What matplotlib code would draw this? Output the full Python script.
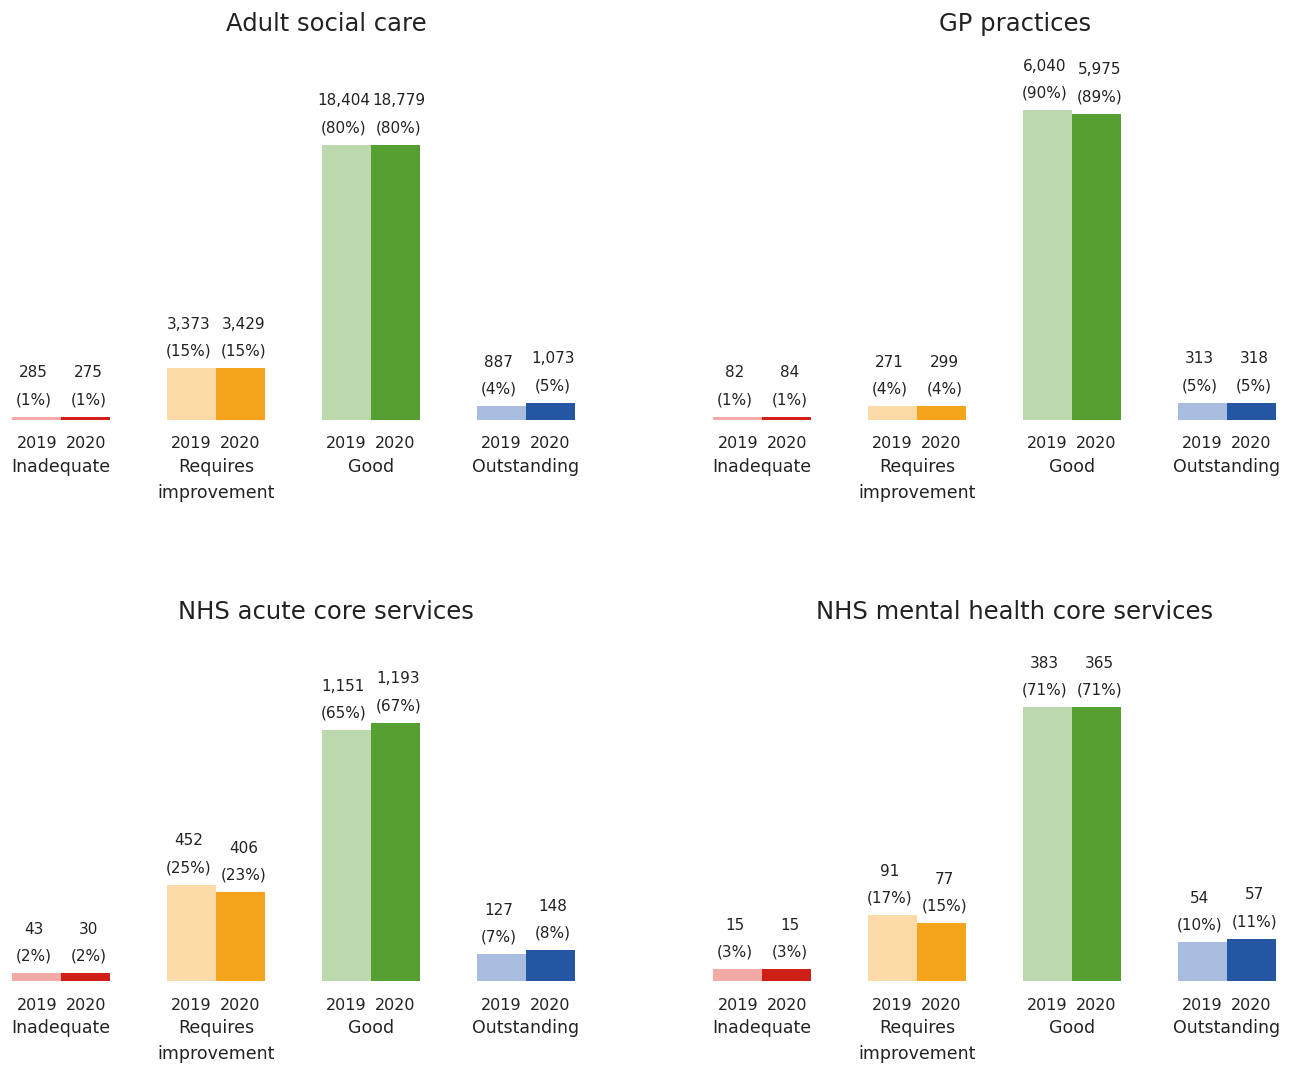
import matplotlib
matplotlib.use('Agg')
import matplotlib.pyplot as plt

categories = ['Inadequate', 'Requires\nimprovement', 'Good', 'Outstanding']
years = ['2019', '2020']
titles = ['Adult social care', 'GP practices',
          'NHS acute core services', 'NHS mental health core services']

# counts and percentages, per panel: [Inadequate, Requires, Good, Outstanding]
asc_2019 = [285, 3373, 18404, 887]
asc_2020 = [275, 3429, 18779, 1073]
asc_pct_2019 = [1, 15, 80, 4]
asc_pct_2020 = [1, 15, 80, 5]

gp_2019 = [82, 271, 6040, 313]
gp_2020 = [84, 299, 5975, 318]
gp_pct_2019 = [1, 4, 90, 5]
gp_pct_2020 = [1, 4, 89, 5]

acute_2019 = [43, 452, 1151, 127]
acute_2020 = [30, 406, 1193, 148]
acute_pct_2019 = [2, 25, 65, 7]
acute_pct_2020 = [2, 23, 67, 8]

mh_2019 = [15, 91, 383, 54]
mh_2020 = [15, 77, 365, 57]
mh_pct_2019 = [3, 17, 71, 10]
mh_pct_2020 = [3, 15, 71, 11]

colors_2019 = ['#f2aaa6', '#fcdaa8', '#bcd8ad', '#a7bcdf']
colors_2020 = ['#cf1f17', '#f5a51b', '#559f33', '#2556a3']
text_col = '#222222'

W, H = 1294, 1070
fig = plt.figure(figsize=(W / 100, H / 100), dpi=100)

panels = [
    (titles[0], asc_2019, asc_2020, asc_pct_2019, asc_pct_2020, 12, 420, 93, 326, 24),
    (titles[1], gp_2019, gp_2020, gp_pct_2019, gp_pct_2020, 713, 420, 93, 1015, 24),
    (titles[2], acute_2019, acute_2020, acute_pct_2019, acute_pct_2020, 12, 981, 83, 326, 612),
    (titles[3], mh_2019, mh_2020, mh_pct_2019, mh_pct_2020, 713, 981, 83, 1015, 612),
]

w = 0.316
ax_w, ax_h = 563, 320

for title, n19, n20, p19, p20, left, base, ytop, tx, ty in panels:
    ax = fig.add_axes([left / W, (H - base) / H, ax_w / W, ax_h / H])
    xs = range(len(categories))
    x19 = [x - w / 2 for x in xs]
    x20 = [x + w / 2 for x in xs]
    ax.bar(x19, p19, width=w, color=colors_2019)
    ax.bar(x20, p20, width=w, color=colors_2020)
    ax.set_xlim(-w - 0.002, 3 + w + 0.002)
    ax.set_ylim(0, ytop)
    ax.axis('off')

    # value labels, nudged slightly apart like the original
    for nudge, xs_, ns, ps in ((-3, x19, n19, p19), (3, x20, n20, p20)):
        for xx, n, p in zip(xs_, ns, ps):
            ax.annotate('({}%)'.format(p), (xx, p), xytext=(nudge, 17),
                        textcoords='offset pixels', ha='center', va='center',
                        fontsize=11, color=text_col)
            ax.annotate('{:,}'.format(n), (xx, p), xytext=(nudge, 44),
                        textcoords='offset pixels', ha='center', va='center',
                        fontsize=11, color=text_col)

    for i, cat in enumerate(categories):
        for xx, yr in zip((x19[i], x20[i]), years):
            ax.annotate(yr, (xx, 0), xytext=(0, -24), textcoords='offset pixels',
                        ha='center', va='center', fontsize=11.5,
                        color=text_col, annotation_clip=False)
        ax.annotate(cat, (i, 0), xytext=(0, -38), textcoords='offset pixels',
                    ha='center', va='top', fontsize=12.5, linespacing=1.55,
                    color=text_col, annotation_clip=False)

    fig.text(tx / W, 1 - ty / H, title, ha='center', va='center',
             fontsize=17.5, color=text_col)

fig.savefig('out.png', dpi=100, facecolor='white')
